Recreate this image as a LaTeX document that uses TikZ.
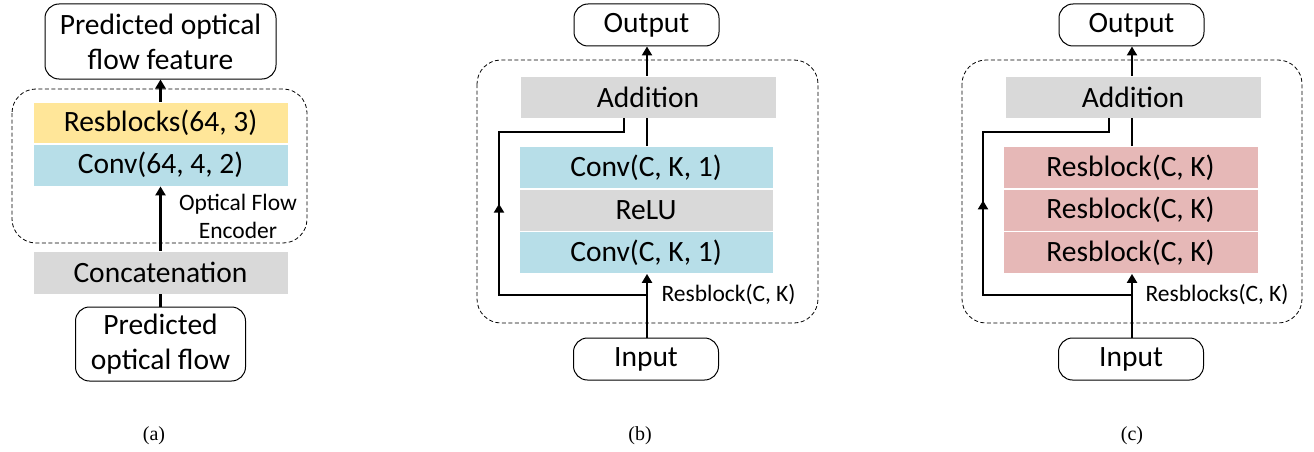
\documentclass[tikz,border=0pt]{standalone}
\usepackage{fontspec}
\setmainfont{Carlito}
\newfontfamily\capfont{Liberation Serif}
\usetikzlibrary{arrows.meta,calc}
\definecolor{cyel}{HTML}{FFE699}
\definecolor{cblue}{HTML}{B7DEE8}
\definecolor{cgray}{HTML}{D9D9D9}
\definecolor{cpink}{HTML}{E6B8B7}
\begin{document}
\begin{tikzpicture}[x=1pt,y=-1pt,
  big/.style={font=\fontsize{29.5}{35}\selectfont},
  small/.style={font=\fontsize{23.5}{28}\selectfont},
  iobox/.style={draw=black,line width=1pt,rounded corners=14pt,inner sep=0pt,big,align=center},
  layer/.style={draw=white,line width=0.8pt,inner sep=0pt,minimum width=255pt,big},
  grp/.style={draw=black,line width=0.8pt,dash pattern=on 4pt off 2.5pt,rounded corners=24pt},
  conn/.style={line width=2.6pt},
  arr/.style={line width=2.6pt,-{Triangle[length=9pt,width=10pt]}},
  caption/.style={font=\capfont\fontsize{20}{22}\selectfont}]
\useasboundingbox (0,0) rectangle (1314,452);

% ---------- (a) ----------
\draw[grp] (12,89) rectangle (307,243);
\node[iobox,minimum width=231pt,minimum height=75pt] (pof) at (160.5,41.5) {Predicted optical\\flow feature};
\node[layer,fill=cyel,minimum height=41pt] (res64) at (160.5,123) {Resblocks(64, 3)};
\node[layer,fill=cblue,minimum height=42pt] (conv64) at (160.5,165) {Conv(64, 4, 2)};
\node[small,align=center] (enc) at (238,216) {Optical Flow\\Encoder};
\node[layer,fill=cgray,minimum height=43pt] (concat) at (160.5,272.5) {Concatenation};
\node[iobox,minimum width=170pt,minimum height=74pt] (pofin) at (160.5,344) {Predicted\\optical flow};
\draw[arr] (res64.north) -- (pof.south);
\draw[arr] (concat.north) -- (conv64.south);
\draw[conn] (pofin.north) -- (concat.south);
\node[caption] (capa) at (154,436) {(a)};

% ---------- (b) ----------
\draw[grp] (477,60) rectangle (818,323);
\node[iobox,minimum width=145pt,minimum height=42pt] (outb) at (646.5,25) {Output};
\node[layer,fill=cgray,minimum width=256pt,minimum height=42pt] (addb) at (648,97) {Addition};
\node[layer,fill=cblue,minimum width=254pt,minimum height=42pt] (cb1) at (646,167.5) {Conv(C, K, 1)};
\node[layer,fill=cgray,minimum width=254pt,minimum height=42pt] (relub) at (646,210) {ReLU};
\node[layer,fill=cblue,minimum width=254pt,minimum height=42pt] (cb2) at (646,252.5) {Conv(C, K, 1)};
\node[iobox,minimum width=145pt,minimum height=42pt] (inb) at (646,359) {Input};
\node[small,anchor=west] (lblb) at (658,295) {Resblock(C, K)};
\coordinate (bj) at (647,295);
\coordinate (bl) at (499,295);
\coordinate (bt) at (499,132);
\coordinate (br) at (624,132);
\draw[arr] (addb.north -| bj) -- (outb.south -| bj);
\draw[conn] (cb1.north -| bj) -- (addb.south -| bj);
\draw[arr] (inb.north -| bj) -- (cb2.south -| bj);
\draw[conn,line join=miter] (bj) -- (bl) -- (bt) -- (br) -- (br |- addb.south);
\draw[arr] (bl) -- ($(bl)!0.56!(bt)$);
\node[caption] (capb) at (640,436) {(b)};

% ---------- (c) ----------
\draw[grp] (962,60) rectangle (1302,323);
\node[iobox,minimum width=145pt,minimum height=42pt] (outc) at (1131.5,25) {Output};
\node[layer,fill=cgray,minimum width=256pt,minimum height=42pt] (addc) at (1133,97) {Addition};
\node[layer,fill=cpink,minimum height=42pt] (rc1) at (1130.5,167.5) {Resblock(C, K)};
\node[layer,fill=cpink,minimum height=42pt] (rc2) at (1130.5,210) {Resblock(C, K)};
\node[layer,fill=cpink,minimum height=42pt] (rc3) at (1130.5,252.5) {Resblock(C, K)};
\node[iobox,minimum width=145pt,minimum height=42pt] (inc) at (1131,359) {Input};
\node[small,anchor=west] (lblc) at (1142,295) {Resblocks(C, K)};
\coordinate (cj) at (1132,295);
\coordinate (cl) at (983,295);
\coordinate (ct) at (983,132);
\coordinate (cr) at (1109,132);
\draw[arr] (addc.north -| cj) -- (outc.south -| cj);
\draw[conn] (rc1.north -| cj) -- (addc.south -| cj);
\draw[arr] (inc.north -| cj) -- (rc3.south -| cj);
\draw[conn,line join=miter] (cj) -- (cl) -- (ct) -- (cr) -- (cr |- addc.south);
\draw[arr] (cl) -- ($(cl)!0.58!(ct)$);
\node[caption] (capc) at (1132,436) {(c)};
\end{tikzpicture}
\end{document}
